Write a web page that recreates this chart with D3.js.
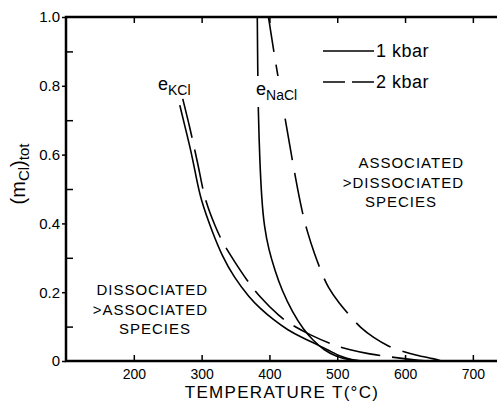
<!DOCTYPE html>
<html>
<head>
<meta charset="utf-8">
<script src="https://cdn.jsdelivr.net/npm/d3@7"></script>
<style>
  body { margin: 0; background: #fff; }
  svg { font-family: "Liberation Sans", Arial, sans-serif; }
  .axis text { font-size: 15px; fill: #000; }
  .axis line { stroke: #000; stroke-width: 1.5; }
  .axis--x text { font-size: 14px; }
</style>
</head>
<body>
<div id="chart"></div>
<script>
// T (deg C) vs (m_Cl)tot
const kcl1kbar = [[267.8, 0.744], [276.6, 0.672], [284.0, 0.613], [291.4, 0.541], [298.7, 0.468],
                  [316.4, 0.372], [329.7, 0.308], [347.4, 0.244], [371.0, 0.183], [385.7, 0.154],
                  [406.3, 0.119], [427.0, 0.090], [449.1, 0.067], [471.2, 0.047], [491.9, 0.026],
                  [506.6, 0.012], [521.4, 0.003], [536, 0]];
const kcl2kbar = [[272.2, 0.762], [282.5, 0.680], [289.9, 0.613], [297.3, 0.547], [304.6, 0.468],
                  [320.9, 0.387], [331.2, 0.343], [348.9, 0.288], [366.6, 0.235], [385.7, 0.186],
                  [415.2, 0.128], [432.9, 0.105], [459.5, 0.076], [493.4, 0.047], [518.4, 0.032],
                  [547.9, 0.020], [577.4, 0.012], [602.5, 0.006], [621.7, 0.0015], [630, 0]];
const nacl1kbar = [[382.0, 1.02], [382.8, 0.837], [383.5, 0.730], [385.7, 0.584], [388.7, 0.468],
                   [392.4, 0.390], [399.0, 0.323], [407.9, 0.265], [418.2, 0.206], [434.4, 0.140],
                   [450.6, 0.090], [463.9, 0.061], [480.1, 0.032], [499.3, 0.012], [518.4, 0.003],
                   [536, 0]];
const nacl2kbar = [[397.0, 1.02], [404.9, 0.919], [412.3, 0.831], [418.2, 0.759], [424.1, 0.695],
                   [434.4, 0.576], [441.8, 0.497], [448.4, 0.433], [455.0, 0.381], [466.8, 0.308],
                   [477.2, 0.256], [486.0, 0.215], [502.2, 0.169], [521.4, 0.125], [533.2, 0.099],
                   [553.8, 0.067], [577.4, 0.041], [589.2, 0.032], [615.7, 0.017], [643.8, 0.006],
                   [654, 0]];

const xTicks = [200, 300, 400, 500, 600, 700];
const yMajor = [0, 0.2, 0.4, 0.6, 0.8, 1.0];
const yMinor = [0.1, 0.3, 0.5, 0.7, 0.9];

const W = 497, H = 402;
const svg = d3.select("#chart").append("svg")
    .attr("width", W).attr("height", H);

const x = d3.scaleLinear().domain([100, 735.6]).range([66, 497]);
const y = d3.scaleLinear().domain([0, 1]).range([361, 17]);

// clip
svg.append("defs").append("clipPath").attr("id", "clip")
    .append("rect")
    .attr("x", x(100)).attr("y", y(1))
    .attr("width", W - x(100)).attr("height", y(0) - y(1));

// axes
const yAxis = svg.append("g").attr("class", "axis")
    .attr("transform", `translate(${x(100)},0)`)
    .call(d3.axisLeft(y).tickValues(yMajor).tickSize(4).tickPadding(2)
        .tickFormat(d => d === 0 ? "0" : d3.format(".1f")(d)));
yAxis.select(".domain").remove();

const yMinorAxis = svg.append("g").attr("class", "axis")
    .attr("transform", `translate(${x(100)},0)`)
    .call(d3.axisLeft(y).tickValues(yMinor).tickSize(-7).tickFormat(""));
yMinorAxis.select(".domain").remove();

const xAxis = svg.append("g").attr("class", "axis axis--x")
    .attr("transform", `translate(0,${y(0)})`)
    .call(d3.axisBottom(x).tickValues(xTicks).tickSize(-6).tickPadding(8));
xAxis.select(".domain").remove();

const xTop = svg.append("g").attr("class", "axis")
    .attr("transform", `translate(0,${y(1)})`)
    .call(d3.axisTop(x).tickValues(xTicks).tickSize(-6).tickFormat(""));
xTop.select(".domain").remove();

// frame
svg.append("path")
    .attr("d", `M${W},${y(1)}H${x(100)}V${y(0)}H${W}`)
    .attr("fill", "none")
    .attr("stroke", "#000")
    .attr("stroke-width", 2.5);

// curves
const line = d3.line()
    .x(d => x(d[0]))
    .y(d => y(d[1]))
    .curve(d3.curveBasis);

const curves = svg.append("g").attr("clip-path", "url(#clip)");
[[kcl1kbar, null], [kcl2kbar, "40,12"], [nacl1kbar, null], [nacl2kbar, "42,13"]]
    .forEach(([data, dash]) => {
        curves.append("path")
            .datum(data)
            .attr("d", line)
            .attr("fill", "none")
            .attr("stroke", "#000")
            .attr("stroke-width", 1.6)
            .attr("stroke-dasharray", dash);
    });

// curve labels
function curveLabel(px, py, sub) {
    const t = svg.append("text")
        .attr("x", px).attr("y", py)
        .style("font-size", "18px");
    t.append("tspan").text("e");
    t.append("tspan").attr("dy", 5).style("font-size", "14px").text(sub);
    return t;
}
curveLabel(158, 90, "KCl");
// white patch so the NaCl lines break at the label
svg.append("rect").attr("x", 255).attr("y", 76).attr("width", 48).attr("height", 31).attr("fill", "#fff");
curveLabel(256, 95, "NaCl");

// legend
const legend = svg.append("g");
legend.append("line")
    .attr("x1", 323).attr("x2", 374).attr("y1", 51).attr("y2", 51)
    .attr("stroke", "#000").attr("stroke-width", 1.6);
legend.append("line")
    .attr("x1", 323).attr("x2", 375).attr("y1", 82).attr("y2", 82)
    .attr("stroke", "#000").attr("stroke-width", 1.6)
    .attr("stroke-dasharray", "22,7");
legend.append("text").attr("x", 376).attr("y", 57)
    .style("font-size", "18px").style("letter-spacing", "0.5px").text("1 kbar");
legend.append("text").attr("x", 376).attr("y", 88)
    .style("font-size", "18px").style("letter-spacing", "0.5px").text("2 kbar");

// region labels
function region(lines, xEnd, xMid, y0) {
    const g = svg.append("g").style("font-size", "15px").style("letter-spacing", "1px");
    lines.forEach((s, i) => {
        g.append("text")
            .attr("x", i < 2 ? xEnd : xMid)
            .attr("y", y0 + i * 19.5)
            .attr("text-anchor", i < 2 ? "end" : "middle")
            .text(s);
    });
}
region(["ASSOCIATED", ">DISSOCIATED", "SPECIES"], 464, 401, 168);
region(["DISSOCIATED", ">ASSOCIATED", "SPECIES"], 208, 155, 295);

// axis titles
svg.append("text")
    .attr("x", 282).attr("y", 398)
    .attr("text-anchor", "middle")
    .style("font-size", "17px").style("letter-spacing", "1.3px")
    .text("TEMPERATURE T(°C)");

const yt = svg.append("text")
    .attr("transform", "translate(25,174) rotate(-90)")
    .attr("text-anchor", "middle")
    .style("font-size", "20px");
yt.append("tspan").text("(m");
yt.append("tspan").attr("dy", 4).style("font-size", "15px").text("Cl");
yt.append("tspan").attr("dy", -4).text(")");
yt.append("tspan").attr("dy", 4).style("font-size", "15px").text("tot");
</script>
</body>
</html>
